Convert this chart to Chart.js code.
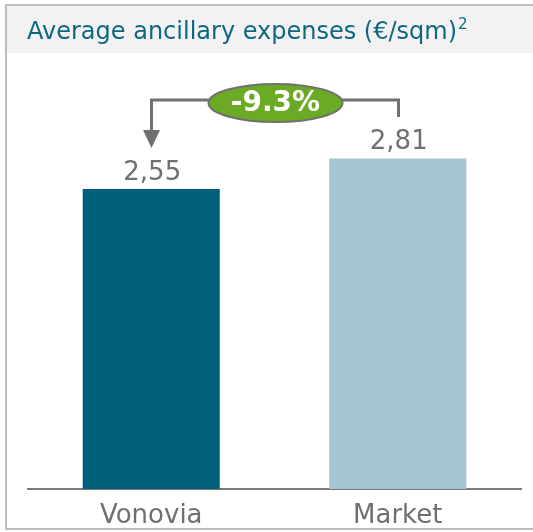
<!DOCTYPE html>
<html>
<head>
<meta charset="utf-8">
<script src="https://cdn.jsdelivr.net/npm/chart.js@4"></script>
<style>
  html, body { margin: 0; padding: 0; background: #fff; }
  #wrap { width: 533px; height: 532px; }
</style>
</head>
<body>
<div id="wrap"><canvas id="chart"></canvas></div>
<script>
const categories = ['Vonovia', 'Market'];
const values = [2.55, 2.81];
const valueLabels = ['2,55', '2,81'];
const barColors = ['#005f79', '#a5c6d1'];
const changeLabel = '-9.3%';
const titleText = 'Average ancillary expenses (€/sqm)';
const titleSup = '2';

const grey = '#707070';

const framePlugin = {
    id: 'frame',
    beforeDraw(chart) {
        const ctx = chart.ctx;
        ctx.save();
        ctx.fillStyle = '#fff';
        ctx.fillRect(0, 0, chart.width, chart.height);
        // title panel
        ctx.fillStyle = '#f2f2f2';
        ctx.fillRect(6, 6, chart.width - 6, 47);
        // frame
        ctx.strokeStyle = '#bdbdbd';
        ctx.lineWidth = 2;
        ctx.beginPath();
        ctx.moveTo(chart.width, 5);
        ctx.lineTo(6, 5);
        ctx.lineTo(6, 529);
        ctx.lineTo(chart.width, 529);
        ctx.stroke();
        // title
        ctx.fillStyle = '#0f6880';
        ctx.font = '24px "DejaVu Sans"';
        ctx.textBaseline = 'alphabetic';
        ctx.fillText(titleText, 27, 39);
        const w = ctx.measureText(titleText).width;
        ctx.font = '15px "DejaVu Sans"';
        ctx.fillText(titleSup, 27 + w + 1, 29);
        ctx.restore();
    },
    afterDatasetsDraw(chart) {
        const ctx = chart.ctx;
        const bars = chart.getDatasetMeta(0).data;
        ctx.save();
        // value labels
        ctx.fillStyle = grey;
        ctx.font = '26px "DejaVu Sans"';
        ctx.textAlign = 'center';
        ctx.textBaseline = 'alphabetic';
        bars.forEach((b, i) => ctx.fillText(valueLabels[i], b.x + 1, b.y - 9));

        // bracket between the bars
        const x1 = Math.round(bars[0].x) + 0.5;
        const x2 = Math.round(bars[1].x) + 0.5;
        const ly = 100;
        const cx = (x1 + x2) / 2 + 0.5;
        const cy = 103;
        ctx.strokeStyle = grey;
        ctx.lineWidth = 3;
        ctx.beginPath();
        ctx.moveTo(x1, 132);
        ctx.lineTo(x1, ly);
        ctx.lineTo(x2, ly);
        ctx.lineTo(x2, 117);
        ctx.stroke();
        ctx.fillStyle = grey;
        ctx.beginPath();
        ctx.moveTo(x1 - 8.5, 130);
        ctx.lineTo(x1 + 8.5, 130);
        ctx.lineTo(x1, 148);
        ctx.closePath();
        ctx.fill();

        ctx.beginPath();
        ctx.ellipse(cx, cy, 67, 19, 0, 0, Math.PI * 2);
        ctx.fillStyle = '#6aaa24';
        ctx.fill();
        ctx.lineWidth = 2;
        ctx.strokeStyle = grey;
        ctx.stroke();
        ctx.fillStyle = '#fff';
        ctx.font = 'bold 28px "DejaVu Sans"';
        ctx.textBaseline = 'middle';
        ctx.fillText(changeLabel, cx, cy + 1);
        ctx.restore();
    }
};

new Chart(document.getElementById('chart'), {
    type: 'bar',
    data: {
        labels: categories,
        datasets: [{
            data: values,
            backgroundColor: barColors,
            borderWidth: 0,
            categoryPercentage: 1,
            barPercentage: 0.556
        }]
    },
    options: {
        responsive: true,
        maintainAspectRatio: false,
        animation: false,
        layout: { padding: { top: 89, left: 28, right: 12, bottom: 0 } },
        plugins: { legend: { display: false }, tooltip: { enabled: false } },
        scales: {
            x: {
                grid: { display: false, drawTicks: false },
                border: { display: true, color: '#7a7a7a', width: 2 },
                ticks: { color: grey, font: { family: 'DejaVu Sans', size: 26 }, padding: 12 },
                afterFit(s) { s.height = 43; }
            },
            y: { display: false, min: 0, max: 3.4 }
        }
    },
    plugins: [framePlugin]
});
</script>
</body>
</html>
